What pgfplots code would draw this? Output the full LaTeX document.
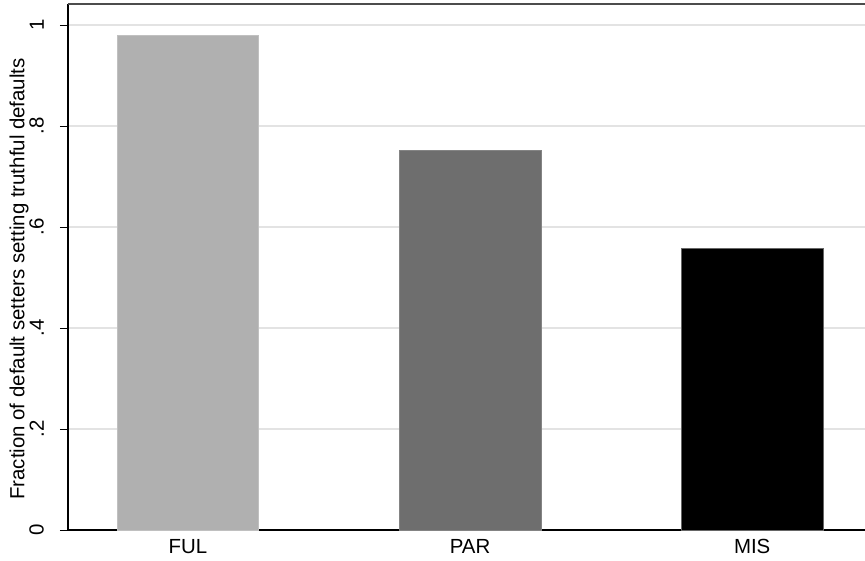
\documentclass[border=0pt]{standalone}
\usepackage{fontspec}
\setmainfont{Liberation Sans}
\usepackage{pgfplots}
\pgfplotsset{compat=1.18}
\definecolor{barful}{HTML}{B0B0B0}
\definecolor{barpar}{HTML}{6E6E6E}
\definecolor{barmis}{HTML}{000000}
\definecolor{gridgray}{HTML}{E3E3E3}
\newcommand{\chartfont}{\fontsize{20.5}{23}\selectfont}
\begin{document}
\begin{tikzpicture}
\begin{axis}[
  scale only axis,
  width=797bp, height=526bp,
  xmin=-0.4255, xmax=2.40,
  ymin=0, ymax=1.0416,
  axis x line*=bottom, axis y line*=left,
  axis line style={black, line width=1.2bp},
  ybar, bar width=0.503, bar shift=0pt,
  xtick={0,1,2},
  xticklabels={FUL,PAR,MIS},
  xtick style={draw=none},
  ytick={0,0.2,0.4,0.6,0.8,1},
  yticklabels={0,.2,.4,.6,.8,1},
  ytick style={black, line width=1bp},
  tick align=outside,
  major tick length=8bp,
  ymajorgrids,
  grid style={gridgray, line width=1.5bp},
  tick label style={font=\chartfont},
  yticklabel style={rotate=90, anchor=south, inner sep=0pt, yshift=16bp},
  xticklabel style={anchor=base, inner sep=0pt, yshift=-16bp},
  ylabel={Fraction of default setters setting truthful defaults},
  ylabel style={font=\chartfont, at={(rel axis cs:0,0.5)}, anchor=center, rotate=0, yshift=49bp, xshift=-12bp},
  clip=false,
]
  \addplot[fill=barful, draw=barful!80!white, line width=1bp] coordinates {(0,0.980)};
  \addplot[fill=barpar, draw=barpar!85!white, line width=1bp] coordinates {(1,0.752)};
  \addplot[fill=barmis, draw=barmis!60!white, line width=1bp] coordinates {(2,0.558)};
  \draw[black!70, line width=2bp] (rel axis cs:0,1) -- (rel axis cs:1,1);
  \coordinate (ll) at (rel axis cs:0,0);
  \coordinate (ur) at (rel axis cs:1,1);
\end{axis}
\pgfresetboundingbox
\path[use as bounding box] ([xshift=-68bp,yshift=-31bp]ll) rectangle ([yshift=4bp]ur);
\end{tikzpicture}
\end{document}
